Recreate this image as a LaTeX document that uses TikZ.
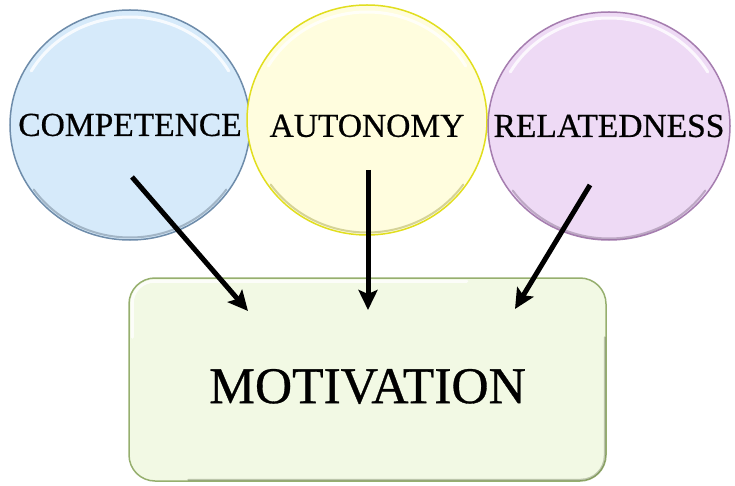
\documentclass[tikz,border=0pt]{standalone}
\usepackage{fontspec}
\setmainfont{Liberation Serif}
\usetikzlibrary{arrows.meta,shapes.geometric}

\definecolor{compfill}{RGB}{214,234,250}
\definecolor{compline}{RGB}{110,140,170}
\definecolor{autofill}{RGB}{255,253,222}
\definecolor{autoline}{RGB}{225,222,30}
\definecolor{relfill}{RGB}{238,218,245}
\definecolor{relline}{RGB}{165,125,175}
\definecolor{motfill}{RGB}{242,249,228}
\definecolor{motline}{RGB}{150,175,110}

\begin{document}
\begin{tikzpicture}[x=1pt,y=1pt,
  need/.style={ellipse,minimum width=240pt,minimum height=230pt,inner sep=-60pt,
    line width=1.5pt,font=\fontsize{33.5}{40}\selectfont\addfontfeature{FakeBold=0.6}},
  goal/.style={rectangle,rounded corners=26pt,minimum width=477pt,
    minimum height=203pt,line width=1.5pt,
    font=\fontsize{51.5}{60}\selectfont\addfontfeature{FakeBold=0.6},text height=48pt},
  shine/.style={white,line width=3pt,opacity=0.8,line cap=round},
  shade/.style={line width=2pt,opacity=0.35,line cap=round},
  push/.style={line width=5pt,-{Stealth[length=20pt,width=19pt,inset=4pt]}}]
\useasboundingbox (0,0) rectangle (735,485);

% the three needs
\node[need,fill=compfill,draw=compline] (comp) at (130,360) {COMPETENCE};
\node[need,fill=autofill,draw=autoline,text height=34pt] (auto) at (367,365) {AUTONOMY};
\node[need,fill=relfill,draw=relline,minimum width=242pt,minimum height=228pt] (rel) at (609,359) {RELATEDNESS};

% bevel on each circle
\foreach \n/\c in {comp/compline,auto/autoline,rel/relline} {
  \draw[shine] (\n.center) ++(150:114 and 108) arc[start angle=150,end angle=30,x radius=114,y radius=108];
  \draw[shade,\c!60!black]
    (\n.center) ++(215:117.5 and 112.5) arc[start angle=215,end angle=325,x radius=117.5,y radius=112.5];
}

% the outcome
\node[goal,fill=motfill,draw=motline] (motiv) at (367.5,105.5) {MOTIVATION};
\draw[shine,rounded corners=22pt] ([shift={(4,-60)}]motiv.north west) |- ([shift={(-140,-4)}]motiv.north east);
\draw[shade,motline!60!black,rounded corners=24pt]
  ([shift={(60,2)}]motiv.south west) -- ([shift={(-2,2)}]motiv.south east) -- ([shift={(-2,-60)}]motiv.north east);

% arrows
\coordinate (c1) at (132,308);
\coordinate (c2) at (368,315);
\coordinate (c3) at (590,300);
\coordinate (m1) at (248,174);
\coordinate (m2) at (368,175);
\coordinate (m3) at (515,176);
\draw[push] (c1) -- (m1);
\draw[push] (c2) -- (m2);
\draw[push] (c3) -- (m3);
\end{tikzpicture}
\end{document}
